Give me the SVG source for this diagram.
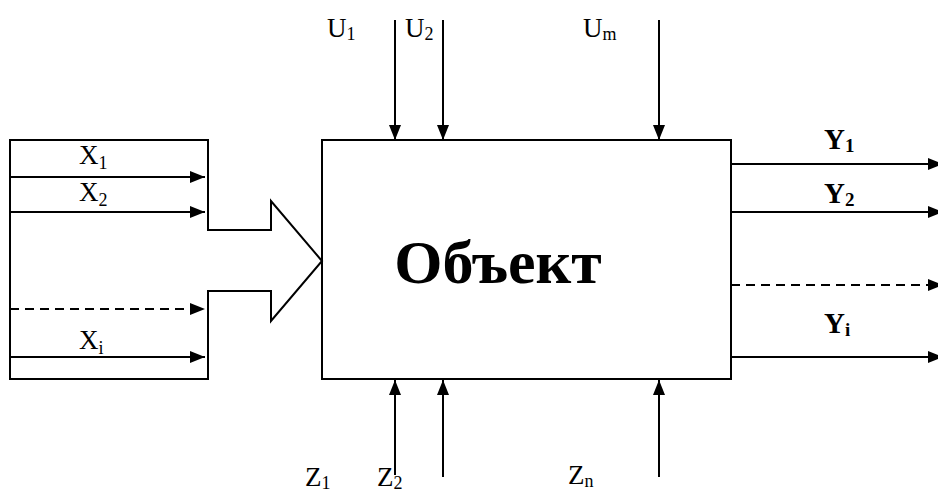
<svg xmlns="http://www.w3.org/2000/svg" width="938" height="494" viewBox="0 0 938 494">
<defs>
<marker id="ah" markerUnits="userSpaceOnUse" markerWidth="15" markerHeight="12" refX="15" refY="6" orient="auto" viewBox="0 0 15 12">
<path d="M0,0 L15,6 L0,12 z" fill="#000"/>
</marker>
<style>
.ln{stroke:#000;stroke-width:2;fill:none}
.ar{stroke:#000;stroke-width:2;fill:none;marker-end:url(#ah)}
.da{stroke-dasharray:9,6}
.t{font-family:"Liberation Serif","Times New Roman",serif;font-size:27px;fill:#000}
.s{font-size:18px}
.b{font-weight:bold;font-size:29px}
.bs{font-size:19px}
</style>
</defs>
<rect width="938" height="494" fill="#fff"/>
<g id="inputs">
<path class="ln" d="M10,140 H208 V230 H271 V201 L322,261 L271,321 V291 H208 V379 H10 Z"/>
<text class="t" x="79" y="164">X<tspan class="s" dy="5">1</tspan></text>
<text class="t" x="79" y="201">X<tspan class="s" dy="5">2</tspan></text>
<text class="t" x="79" y="349">X<tspan class="s" dy="5">i</tspan></text>
</g>
<g id="object">
<rect class="ln" x="322" y="140" width="409" height="239"/>
<text class="t" x="498" y="283" text-anchor="middle" style="font-weight:bold;font-size:62px">Объект</text>
</g>
<g id="labels-u">
<text class="t" x="327" y="37">U<tspan class="s" dy="3">1</tspan></text>
<text class="t" x="405" y="37">U<tspan class="s" dy="3">2</tspan></text>
<text class="t" x="583" y="37">U<tspan class="s" dy="3">m</tspan></text>
</g>
<g id="labels-z">
<text class="t" x="305" y="486">Z<tspan class="s" dy="3">1</tspan></text>
<text class="t" x="377" y="486">Z<tspan class="s" dy="3">2</tspan></text>
<text class="t" x="568" y="484">Z<tspan class="s" dy="3">n</tspan></text>
</g>
<g id="labels-y">
<text class="t b" x="824" y="149">Y<tspan class="bs" dy="3">1</tspan></text>
<text class="t b" x="824" y="203">Y<tspan class="bs" dy="3">2</tspan></text>
<text class="t b" x="824" y="333">Y<tspan class="bs" dy="3">i</tspan></text>
</g>
<g id="connectors">
<line class="ar" x1="10" y1="177" x2="205" y2="177"/>
<line class="ar" x1="10" y1="212" x2="205" y2="212"/>
<line class="ar da" x1="10" y1="309" x2="205" y2="309"/>
<line class="ar" x1="10" y1="357" x2="205" y2="357"/>
<line class="ar" x1="395" y1="20" x2="395" y2="140"/>
<line class="ar" x1="443" y1="20" x2="443" y2="140"/>
<line class="ar" x1="659" y1="20" x2="659" y2="140"/>
<line class="ar" x1="395" y1="475" x2="395" y2="380"/>
<line class="ar" x1="443" y1="477" x2="443" y2="380"/>
<line class="ar" x1="659" y1="477" x2="659" y2="380"/>
<line class="ar" x1="731" y1="164" x2="943" y2="164"/>
<line class="ar" x1="731" y1="212" x2="943" y2="212"/>
<line class="ar da" x1="731" y1="285" x2="943" y2="285"/>
<line class="ar" x1="731" y1="357" x2="943" y2="357"/>
</g>
</svg>
